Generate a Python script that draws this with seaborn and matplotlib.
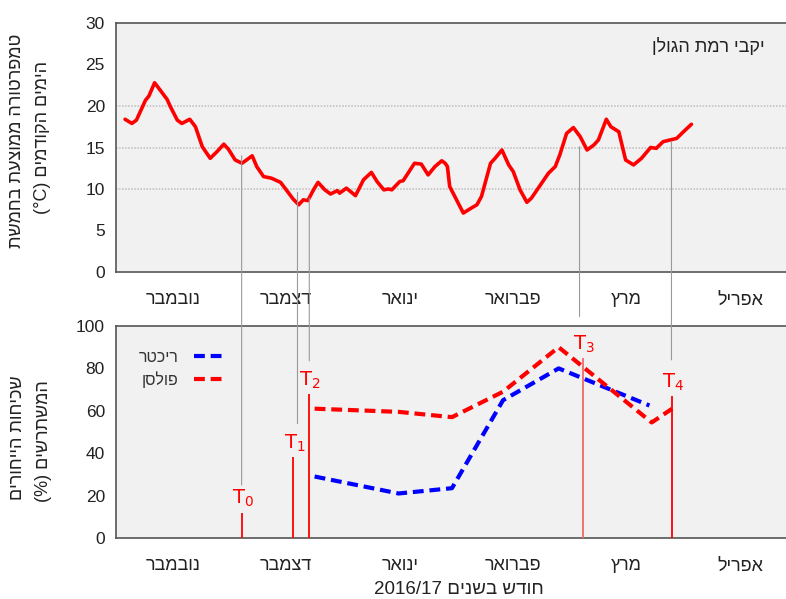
import numpy as np
import pandas as pd
import matplotlib
matplotlib.use("Agg")
import matplotlib.pyplot as plt
from matplotlib.patches import ConnectionPatch
from matplotlib.ticker import MultipleLocator
import seaborn as sns

# ---------------- data ----------------
month_labels = ["נובמבר", "דצמבר", "ינואר", "פברואר", "מרץ", "אפריל"]

# x in months since 1 November 2016
temp_x = [0.08, 0.14, 0.18, 0.26, 0.29, 0.34, 0.39, 0.45, 0.48, 0.54, 0.58, 0.65,
          0.70, 0.76, 0.83, 0.89, 0.95, 0.99, 1.05, 1.11, 1.15, 1.20, 1.24, 1.30,
          1.37, 1.45, 1.50, 1.56, 1.61, 1.65, 1.69, 1.74, 1.78, 1.84, 1.89, 1.95,
          1.97, 2.03, 2.11, 2.18, 2.25, 2.30, 2.36, 2.40, 2.43, 2.50, 2.53, 2.63,
          2.69, 2.75, 2.81, 2.87, 2.90, 2.92, 2.94, 2.97, 3.06, 3.13, 3.18, 3.22,
          3.30, 3.34, 3.40, 3.46, 3.50, 3.56, 3.62, 3.66, 3.74, 3.81, 3.87, 3.91,
          3.97, 4.03, 4.09, 4.15, 4.21, 4.25, 4.32, 4.36, 4.43, 4.49, 4.56, 4.63,
          4.71, 4.76, 4.82, 4.88, 4.94, 5.00, 5.07]
temp_c = [18.4, 17.9, 18.3, 20.7, 21.2, 22.8, 21.9, 20.8, 19.9, 18.3, 17.9, 18.4,
          17.5, 15.1, 13.7, 14.5, 15.4, 14.8, 13.5, 13.1, 13.5, 14.0, 12.7, 11.5,
          11.3, 10.8, 9.9, 8.8, 8.1, 8.7, 8.6, 9.9, 10.8, 9.9, 9.4, 9.8,
          9.5, 10.1, 9.2, 11.1, 12.0, 10.9, 9.9, 10.0, 9.9, 10.9, 11.0, 13.1,
          13.0, 11.7, 12.7, 13.4, 13.1, 12.7, 10.3, 9.5, 7.1, 7.7, 8.1, 9.1,
          13.1, 13.7, 14.7, 12.9, 12.1, 9.9, 8.4, 8.9, 10.5, 11.9, 12.7, 14.1,
          16.7, 17.4, 16.3, 14.7, 15.3, 15.9, 18.4, 17.5, 16.9, 13.5, 12.9, 13.7,
          15.0, 14.9, 15.7, 15.9, 16.1, 16.9, 17.8]

richter_x = [1.75, 2.49, 2.96, 3.41, 3.90, 4.70]
richter_pct = [29, 21, 23.5, 65, 80, 62.5]
poulsen_x = [1.75, 2.49, 2.96, 3.41, 3.90, 4.72, 4.90]
poulsen_pct = [61, 59.5, 57, 69, 90, 54.5, 61]

series_names = ["ריכטר", "פולסן"]
title_text = "יקבי רמת הגולן"
ylabel_top = ["טמפרטורה ממוצעת בחמשת", "הימים הקודמים", "(°C)"]
ylabel_bottom = ["שכיחות הייחורים", "המשתרשים", "(%)"]
xlabel_text = ["חודש בשנים", "2016/17"]

# sampling times T0..T4
sample_names = ["0", "1", "2", "3", "4"]
sample_x = [1.107, 1.562, 1.700, 4.112, 4.896]
sample_top = [12, 38, 68, 85, 67]
guide_x = [1.107, 1.599, 1.703, 4.084, 4.894]
guide_from_temp = [14.0, 9.6, 8.9, 15.1, 15.7]
guide_to_pct = [25, 54, 83.6, 104.5, 84]


def rtl(s):
    return s[::-1]


# ---------------- style ----------------
sns.set_style("white")
plt.rcParams["font.family"] = ["Liberation Sans", "DejaVu Sans"]
plt.rcParams["mathtext.fontset"] = "custom"
plt.rcParams["mathtext.rm"] = "Liberation Sans Narrow"
plt.rcParams["mathtext.it"] = "Liberation Sans Narrow"
plt.rcParams["mathtext.bf"] = "Liberation Sans Narrow"

W, H = 786, 599
fig = plt.figure(figsize=(W / 100, H / 100), dpi=100)
fig.patch.set_facecolor("white")

ax_w = 681 / W
ax1 = fig.add_axes([116 / W, 1 - 272 / H, ax_w, (272 - 23) / H])
ax2 = fig.add_axes([116 / W, 1 - 538 / H, ax_w, (538 - 326) / H])

txt_col = "#222222"
for ax in (ax1, ax2):
    ax.set_facecolor("#f1f1f1")
    for side in ("left", "bottom", "top"):
        ax.spines[side].set_color("#555555")
        ax.spines[side].set_linewidth(1.2)
    ax.spines["right"].set_visible(False)
    ax.set_xlim(0, 6)
    ax.set_xticks([m + 0.5 for m in range(6)])
    ax.set_xticklabels([rtl(m) for m in month_labels], fontsize=13, color=txt_col)
    ax.xaxis.set_minor_locator(MultipleLocator(1 / 3))
    ax.tick_params(axis="x", which="major", length=0, pad=14)
    ax.tick_params(axis="x", which="minor", length=4, direction="inout",
                   color="#888888", width=1)
    ax.tick_params(axis="y", which="major", length=5, direction="out",
                   color="#888888", width=1, labelsize=12.5, labelcolor=txt_col,
                   pad=3)
    ax.grid(False)

# ---------------- top panel ----------------
df_t = pd.DataFrame({"x": temp_x, "t": temp_c})
for g in (10, 15, 20):
    ax1.axhline(g, color="#bdbdbd", lw=1.1, ls=(0, (1, 1)), zorder=1)
sns.lineplot(data=df_t, x="x", y="t", ax=ax1, color="#ff0000", lw=2.6,
             zorder=3, legend=False)
ax1.set_ylim(0, 30)
ax1.set_yticks(range(0, 31, 5))
ax1.set_xlabel("")
ax1.set_ylabel("")
ax1.text(765 / W, 1 - 47 / H, rtl(title_text), transform=fig.transFigure,
         ha="right", va="center", fontsize=13, color=txt_col)

# ---------------- bottom panel ----------------
df_r = pd.DataFrame({"x": richter_x, "p": richter_pct})
df_p = pd.DataFrame({"x": poulsen_x, "p": poulsen_pct})
sns.lineplot(data=df_r, x="x", y="p", ax=ax2, color="#0000ff", lw=3,
             linestyle=(0, (2.6, 1.4)), label=rtl(series_names[0]), zorder=4)
sns.lineplot(data=df_p, x="x", y="p", ax=ax2, color="#ff0000", lw=3,
             linestyle=(0, (2.6, 1.4)), label=rtl(series_names[1]), zorder=4)
ax2.set_ylim(0, 100)
ax2.set_yticks(range(0, 101, 20))
ax2.set_xlabel("")
ax2.set_ylabel("")
leg = ax2.legend(loc="upper left", bbox_to_anchor=(0.012, 0.955), frameon=False,
                 markerfirst=False, fontsize=11.5, handlelength=2.0,
                 labelspacing=0.4, handletextpad=1.0)
for t in leg.get_texts():
    t.set_color("#333333")

# sampling-time markers
for i, (xs, top, nm) in enumerate(zip(sample_x, sample_top, sample_names)):
    col = "#f06868" if i == 3 else "#ff0000"
    ax2.vlines(xs, 0, top, color=col, lw=1.3, zorder=5)
    ax2.text(xs + 0.01, top + 1.5, r"$\mathrm{T}_{" + nm + "}$", ha="center",
             va="bottom", fontsize=14, color="#ff0000", zorder=6)

# thin grey guides linking temperature curve to sampling times
for gx, y0, y1 in zip(guide_x, guide_from_temp, guide_to_pct):
    con = ConnectionPatch(xyA=(gx, y0), coordsA=ax1.transData,
                          xyB=(gx, y1), coordsB=ax2.transData,
                          color="#9a9a9a", lw=0.8, zorder=2)
    fig.add_artist(con)

# ---------------- axis titles ----------------
fig.text(17 / W, 1 - 141 / H, rtl(ylabel_top[0]), rotation=90, ha="center",
         va="center", fontsize=13, color=txt_col)
fig.text(43 / W, 1 - 138 / H, ylabel_top[2] + " " + rtl(ylabel_top[1]),
         rotation=90, ha="center", va="center", fontsize=13, color=txt_col)
fig.text(18 / W, 1 - 438 / H, rtl(ylabel_bottom[0]), rotation=90, ha="center",
         va="center", fontsize=13, color=txt_col)
fig.text(43 / W, 1 - 441 / H, ylabel_bottom[2] + " " + rtl(ylabel_bottom[1]),
         rotation=90, ha="center", va="center", fontsize=13, color=txt_col)
fig.text(459 / W, 1 - 589 / H, xlabel_text[1] + " " + rtl(xlabel_text[0]),
         ha="center", va="center", fontsize=13.5, color=txt_col)

fig.savefig("out.png", dpi=100)
